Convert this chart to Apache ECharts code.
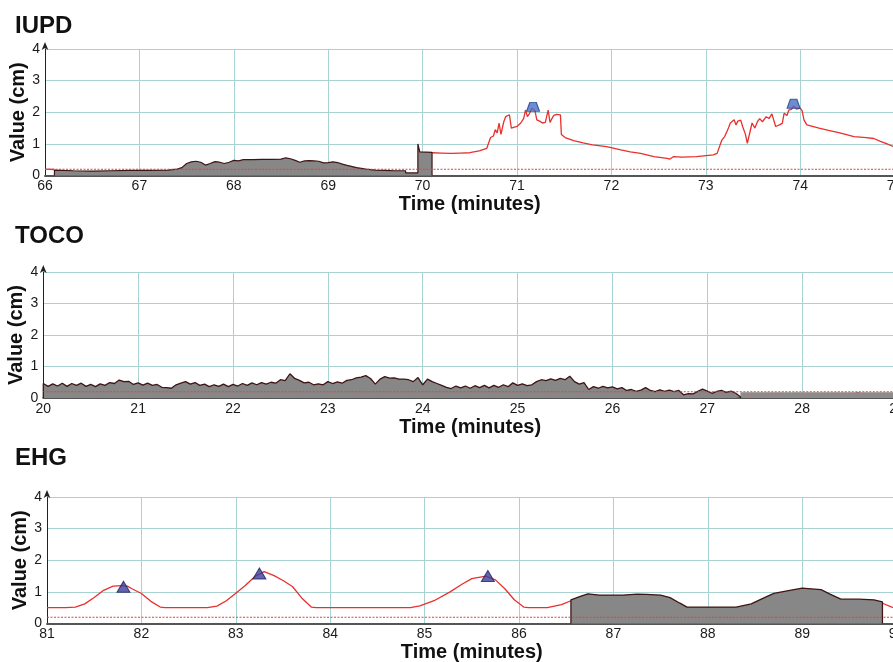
<!DOCTYPE html>
<html>
<head>
<meta charset="utf-8">
<script src="https://cdn.jsdelivr.net/npm/echarts@6/dist/echarts.min.js"></script>
<style>html,body{margin:0;padding:0;background:#fff;}#c{width:893px;height:662px;}</style>
</head>
<body>
<div id="c"></div>
<script>
// ---------- data ----------
const panelTitles = ['IUPD', 'TOCO', 'EHG'];
const xRanges = [[66, 75], [20, 29], [81, 90]];
const yRange = [0, 4];
const threshold = 0.2;

// IUPD
const iupdRedHead = [[66.0, 0.2], [66.1, 0.19]];
const iupdRedTail = [[70.1,0.72],[70.2,0.71],[70.3,0.7],[70.4,0.71],[70.5,0.72],[70.6,0.78],[70.68,0.86],[70.72,1.2],[70.75,1.25],[70.77,1.45],[70.79,1.35],[70.81,1.66],[70.83,1.3],[70.86,1.7],[70.88,1.86],[70.92,1.92],[70.94,1.5],[70.96,1.44],[71.0,1.55],[71.04,1.66],[71.07,1.8],[71.09,2.07],[71.11,1.86],[71.13,1.95],[71.16,2.13],[71.19,2.05],[71.21,1.76],[71.24,1.72],[71.27,1.66],[71.3,1.68],[71.32,1.66],[71.33,2.07],[71.35,1.68],[71.37,1.8],[71.39,1.9],[71.42,1.93],[71.46,1.92],[71.47,1.3],[71.51,1.2],[71.6,1.1],[71.7,1.03],[71.8,0.97],[71.95,0.91],[72.1,0.81],[72.2,0.75],[72.31,0.7],[72.45,0.6],[72.59,0.54],[72.62,0.52],[72.66,0.6],[72.75,0.58],[72.9,0.6],[73.08,0.65],[73.12,0.7],[73.17,1.12],[73.2,1.23],[73.24,1.5],[73.26,1.66],[73.28,1.72],[73.3,1.76],[73.32,1.6],[73.34,1.72],[73.37,1.75],[73.39,1.55],[73.42,1.3],[73.44,1.02],[73.46,1.05],[73.49,1.66],[73.52,1.5],[73.55,1.72],[73.57,1.8],[73.6,1.7],[73.64,1.86],[73.67,1.8],[73.7,1.95],[73.72,1.97],[73.74,1.55],[73.78,1.6],[73.81,1.65],[73.83,1.97],[73.86,1.9],[73.88,2.07],[73.91,2.1],[73.93,2.2],[73.96,2.1],[74.0,2.13],[74.02,2.05],[74.04,1.76],[74.07,1.6],[74.2,1.5],[74.3,1.43],[74.43,1.34],[74.57,1.23],[74.7,1.2],[74.78,1.17],[74.85,1.08],[74.92,1.0],[75.0,0.9]];
const iupdGray = [[66.1,0],[66.1,0.17],[66.3,0.15],[66.5,0.14],[66.7,0.15],[66.9,0.16],[67.1,0.16],[67.3,0.17],[67.4,0.2],[67.45,0.25],[67.5,0.38],[67.55,0.43],[67.6,0.45],[67.65,0.42],[67.7,0.33],[67.75,0.38],[67.8,0.44],[67.85,0.42],[67.9,0.38],[67.95,0.42],[68.0,0.48],[68.05,0.46],[68.1,0.5],[68.2,0.5],[68.3,0.51],[68.4,0.51],[68.5,0.52],[68.55,0.56],[68.6,0.53],[68.65,0.48],[68.7,0.42],[68.75,0.46],[68.8,0.47],[68.85,0.46],[68.9,0.45],[68.95,0.4],[69.0,0.41],[69.05,0.43],[69.1,0.41],[69.15,0.36],[69.2,0.32],[69.3,0.25],[69.4,0.2],[69.5,0.17],[69.6,0.16],[69.7,0.15],[69.82,0.15],[69.82,0.08],[69.95,0.08],[69.95,1.0],[69.97,0.75],[70.1,0.73],[70.1,0]];
const iupdPeaks = [[71.17, 2.17], [73.93, 2.27]];

// TOCO
const tocoStart = 20.0;
const tocoStep = 0.05;
const tocoValues = [0.46,0.37,0.45,0.38,0.47,0.37,0.46,0.40,0.47,0.37,0.43,0.36,0.45,0.40,0.49,0.46,0.57,0.52,0.53,0.43,
0.48,0.41,0.47,0.40,0.43,0.34,0.33,0.31,0.42,0.47,0.52,0.44,0.49,0.40,0.44,0.36,0.42,0.37,0.44,0.36,
0.43,0.38,0.46,0.40,0.48,0.42,0.49,0.44,0.50,0.47,0.58,0.55,0.77,0.62,0.56,0.48,0.50,0.42,0.45,0.42,
0.52,0.46,0.51,0.47,0.56,0.58,0.64,0.66,0.71,0.62,0.44,0.60,0.68,0.63,0.64,0.60,0.60,0.58,0.52,0.65,
0.42,0.60,0.52,0.46,0.40,0.34,0.30,0.38,0.32,0.38,0.31,0.39,0.33,0.40,0.32,0.40,0.34,0.42,0.36,0.48,
0.40,0.45,0.39,0.42,0.52,0.58,0.55,0.61,0.56,0.62,0.58,0.69,0.52,0.44,0.49,0.27,0.36,0.31,0.37,0.32,
0.35,0.29,0.33,0.24,0.27,0.21,0.25,0.33,0.24,0.20,0.26,0.21,0.25,0.20,0.24,0.10,0.14,0.13,0.21,0.28,
0.22,0.15,0.21,0.24,0.18,0.22,0.15,0.04];
const tocoBand = [[27.35, 0.18], [29.1, 0.18]];
const tocoRedTail = [[27.35,0.04],[27.45,0.01],[27.55,0.03],[27.7,0.05],[27.85,0.05],[28.0,0.06],[28.15,0.05],[28.3,0.06],[28.45,0.05],[28.52,0.08],[28.58,0.17],[28.65,0.12],[28.72,0.06],[28.85,0.05],[29.0,0.05]];

// EHG
const ehgRedA = [[81.0,0.5],[81.2,0.5],[81.3,0.52],[81.4,0.62],[81.5,0.82],[81.6,1.05],[81.7,1.18],[81.8,1.2],[81.85,1.18],[81.9,1.1],[82.0,0.95],[82.1,0.7],[82.2,0.52],[82.25,0.5],[82.7,0.5],[82.8,0.55],[82.9,0.72],[83.0,0.96],[83.1,1.2],[83.2,1.48],[83.3,1.64],[83.4,1.52],[83.5,1.36],[83.6,1.17],[83.7,0.8],[83.8,0.52],[83.85,0.5],[84.85,0.5],[84.95,0.56],[85.1,0.72],[85.27,1.0],[85.4,1.25],[85.5,1.42],[85.65,1.5],[85.75,1.38],[85.85,1.1],[85.95,0.75],[86.05,0.52],[86.1,0.5],[86.3,0.5],[86.45,0.6],[86.55,0.72]];
const ehgRedB = [[89.85,0.64],[89.95,0.52],[90.0,0.48]];
const ehgGray = [[86.55,0],[86.55,0.75],[86.65,0.86],[86.73,0.94],[86.85,0.9],[87.0,0.9],[87.1,0.9],[87.25,0.93],[87.35,0.92],[87.5,0.9],[87.6,0.82],[87.7,0.65],[87.78,0.52],[88.0,0.52],[88.3,0.52],[88.46,0.62],[88.6,0.82],[88.7,0.95],[88.84,1.03],[89.0,1.12],[89.2,1.07],[89.3,0.92],[89.41,0.77],[89.6,0.77],[89.76,0.75],[89.85,0.68],[89.85,0]];
const ehgPeaks = [[81.81, 1.16], [83.25, 1.58], [85.67, 1.5]];

// ---------- build ----------
const FONT = "'Liberation Sans', Arial, sans-serif";
const RED = '#e8302c';
const OUTLINE = '#3f1414';
const GRAYFILL = '#878787';
const GRIDC = '#a9d3d3';

const grids = [
  {left: 45, top: 49, width: 849.6, height: 126.5},
  {left: 43.3, top: 272, width: 853.7, height: 126},
  {left: 47, top: 497, width: 849.6, height: 126.5}
].map(g => Object.assign(g, {containLabel: false, outerBoundsMode: 'none'}));
const titleTops = [14, 224, 446];

const xAxes = xRanges.map((r, i) => ({
  type: 'value', gridIndex: i, min: r[0], max: r[1], interval: 1,
  name: 'Time (minutes)', nameLocation: 'middle', nameGap: 19, nameMoveOverlap: false,
  nameTextStyle: {fontFamily: FONT, fontWeight: 'bold', fontSize: 20, color: '#111'},
  axisLine: {show: true, onZero: false, lineStyle: {color: '#555', width: 2}},
  axisTick: {show: false},
  axisLabel: {fontFamily: FONT, fontSize: 14, color: '#1a1a1a', margin: 4, showMaxLabel: true, showMinLabel: true},
  splitLine: {show: true, lineStyle: {color: GRIDC, width: 1}}
}));
const yAxes = xRanges.map((r, i) => ({
  type: 'value', gridIndex: i, min: yRange[0], max: yRange[1], interval: 1,
  name: 'Value (cm)', nameLocation: 'middle', nameGap: 17, nameRotate: 90, nameMoveOverlap: false,
  nameTextStyle: {fontFamily: FONT, fontWeight: 'bold', fontSize: 20, color: '#111'},
  axisLine: {show: true, lineStyle: {color: '#222', width: 1}, symbol: ['none', 'arrow'], symbolSize: [5, 8], symbolOffset: [0, 7]},
  axisTick: {show: false},
  axisLabel: {fontFamily: FONT, fontSize: 14, color: '#1a1a1a', margin: 5},
  splitLine: {show: true, lineStyle: {color: GRIDC, width: 1.2}}
}));

function redLine(i, data) {
  return {type: 'line', xAxisIndex: i, yAxisIndex: i, data: data, symbol: 'none', z: 3,
    lineStyle: {color: RED, width: 1.3}, silent: true, animation: false};
}
function grayArea(i, data, lineW) {
  return {type: 'line', xAxisIndex: i, yAxisIndex: i, data: data, symbol: 'none', z: 4,
    lineStyle: {color: OUTLINE, width: lineW}, areaStyle: {color: GRAYFILL, opacity: 1},
    silent: true, animation: false};
}
function thresholdLine(i) {
  const r = xRanges[i];
  return {type: 'line', xAxisIndex: i, yAxisIndex: i, symbol: 'none', z: 5, silent: true, animation: false,
    data: [[r[0], threshold], [r[1] + 0.1, threshold]],
    lineStyle: {color: '#d24a46', type: [2, 1.5], width: 1.1}};
}
function peaks(i, data, color, border, sym, size) {
  return {type: 'scatter', xAxisIndex: i, yAxisIndex: i, data: data, symbol: sym, symbolSize: size, z: 6,
    itemStyle: {color: color, borderColor: border, borderWidth: 1}, silent: true, animation: false};
}

const tocoArea = [[tocoStart, 0]];
tocoValues.forEach((v, k) => tocoArea.push([+(tocoStart + k * tocoStep).toFixed(2), v]));
tocoArea.push([+(tocoStart + (tocoValues.length - 1) * tocoStep).toFixed(2), 0]);

const series = [
  redLine(0, iupdRedHead),
  redLine(0, iupdRedTail),
  grayArea(0, iupdGray, 1.2),
  thresholdLine(0),
  peaks(0, iupdPeaks, '#4a6fc6', '#23408a', 'path://M3,0 L9,0 L12,9 L0,9 Z', [13, 9]),

  grayArea(1, tocoArea, 1.3),
  {type: 'line', xAxisIndex: 1, yAxisIndex: 1, data: tocoBand, symbol: 'none', z: 4, silent: true, animation: false,
    lineStyle: {width: 0}, areaStyle: {color: '#8c8c8c', opacity: 1}},
  redLine(1, tocoRedTail),
  thresholdLine(1),

  redLine(2, ehgRedA),
  redLine(2, ehgRedB),
  grayArea(2, ehgGray, 1.3),
  thresholdLine(2),
  peaks(2, ehgPeaks, '#3c3f9e', '#1e2160', 'triangle', [13, 11])
];

const chart = echarts.init(document.getElementById('c'), null, {renderer: 'canvas'});
chart.setOption({
  animation: false,
  backgroundColor: '#ffffff',
  title: panelTitles.map((t, i) => ({text: t, left: 15, top: titleTops[i], padding: 0,
    textStyle: {fontFamily: FONT, fontWeight: 'bold', fontSize: 24, color: '#111'}})),
  grid: grids,
  xAxis: xAxes,
  yAxis: yAxes,
  series: series
});
</script>
</body>
</html>
